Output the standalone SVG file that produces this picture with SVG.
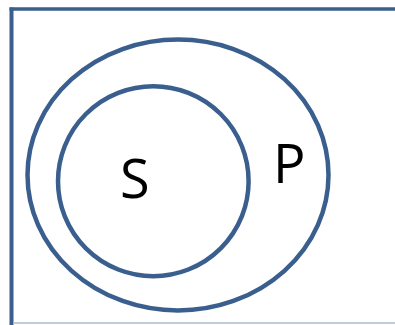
<svg xmlns="http://www.w3.org/2000/svg" width="395" height="325" viewBox="0 0 395 325">
<style>
.ln{fill:none;stroke:#3a5f8e;stroke-width:4.5}
.lbl{font-family:"Open Sans","Noto Sans",sans-serif;font-size:54px;fill:#000}
</style>
<rect width="395" height="325" fill="#fff"/>
<g id="frame">
<line x1="9.5" y1="9" x2="395" y2="9" stroke="#3a5f8e" stroke-width="3.5"/>
<line x1="11.5" y1="7.5" x2="11.5" y2="325" stroke="#3a5f8e" stroke-width="4"/>
<line x1="13" y1="323" x2="395" y2="323" stroke="#a9bbd2" stroke-width="1.5"/>
</g>
<g id="P">
<ellipse class="ln" cx="178" cy="175" rx="150.5" ry="135.5"/>
<text class="lbl" x="273" y="182.5">P</text>
</g>
<g id="S">
<ellipse class="ln" cx="153.3" cy="181.2" rx="95.3" ry="95"/>
<text class="lbl" x="120" y="198">S</text>
</g>
</svg>
